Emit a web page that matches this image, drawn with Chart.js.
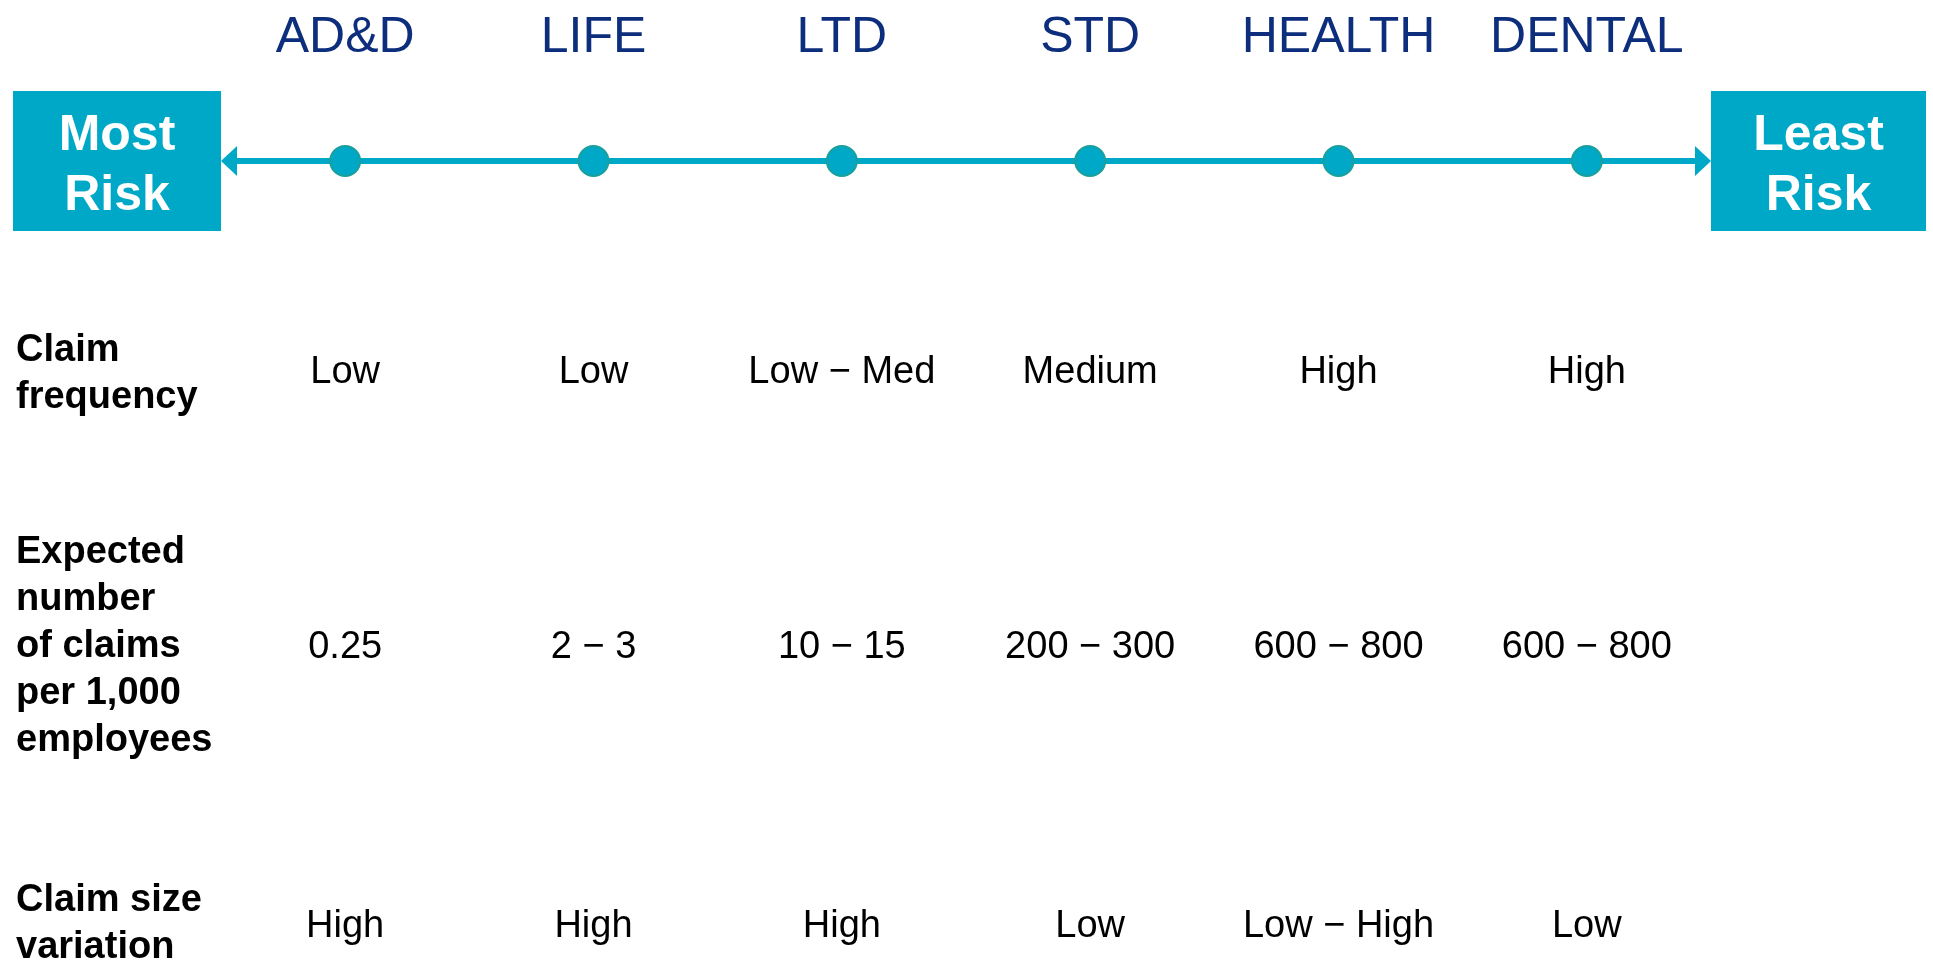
<!DOCTYPE html>
<html>
<head>
<meta charset="utf-8">
<title>Risk profile by coverage</title>
<script src="https://cdn.jsdelivr.net/npm/chart.js@4/dist/chart.umd.min.js"></script>
<style>
  html, body { margin: 0; padding: 0; background: #ffffff; overflow: hidden; }
  #wrap { position: relative; width: 1933px; height: 961px; }
</style>
</head>
<body>
<div id="wrap"><canvas id="chart"></canvas></div>
<script>
// Coverage lines, ordered from most to least risk
const products = ['AD&D', 'LIFE', 'LTD', 'STD', 'HEALTH', 'DENTAL'];
// Every coverage sits on the same risk axis
const riskAxis = [0, 0, 0, 0, 0, 0];

// Table rows under the axis
const claimFrequency = ['Low', 'Low', 'Low \u2212 Med', 'Medium', 'High', 'High'];
const claimsPer1000 = ['0.25', '2 \u2212 3', '10 \u2212 15', '200 \u2212 300', '600 \u2212 800', '600 \u2212 800'];
const claimSizeVariation = ['High', 'High', 'High', 'Low', 'Low \u2212 High', 'Low'];

const rowLabels = [
  ['Claim', 'frequency'],
  ['Expected', 'number', 'of claims', 'per 1,000', 'employees'],
  ['Claim size', 'variation']
];
const endLabels = [['Most', 'Risk'], ['Least', 'Risk']];

const TEAL = '#00A8C7';
const TEAL_EDGE = '#1B9F9B';
const NAVY = '#0C2E7C';
const FONT = '"Liberation Sans", Arial, Helvetica, sans-serif';

// Double-headed risk axis with the two end boxes
const riskAxisPlugin = {
  id: 'riskAxis',
  beforeDatasetsDraw(chart) {
    const { ctx, chartArea } = chart;
    const y = chart.scales.y.getPixelForValue(0);
    const L = chartArea.left, R = chartArea.right;
    const head = 16, half = 15;
    ctx.save();
    ctx.strokeStyle = TEAL;
    ctx.fillStyle = TEAL;
    ctx.lineWidth = 6;
    ctx.beginPath();
    ctx.moveTo(L + head - 1, y);
    ctx.lineTo(R - head + 1, y);
    ctx.stroke();
    ctx.beginPath();
    ctx.moveTo(L, y); ctx.lineTo(L + head, y - half); ctx.lineTo(L + head, y + half); ctx.closePath();
    ctx.fill();
    ctx.beginPath();
    ctx.moveTo(R, y); ctx.lineTo(R - head, y - half); ctx.lineTo(R - head, y + half); ctx.closePath();
    ctx.fill();

    // end boxes
    const boxH = 140;
    const boxes = [
      { x0: 13, x1: L, lines: endLabels[0] },
      { x0: R, x1: 1926, lines: endLabels[1] }
    ];
    boxes.forEach(b => {
      ctx.fillStyle = TEAL;
      ctx.fillRect(b.x0, y - boxH / 2, b.x1 - b.x0, boxH);
      ctx.fillStyle = '#ffffff';
      ctx.font = 'bold 50px ' + FONT;
      ctx.textAlign = 'center';
      ctx.textBaseline = 'alphabetic';
      const cx = (b.x0 + b.x1) / 2;
      ctx.fillText(b.lines[0], cx, y - 11);
      ctx.fillText(b.lines[1], cx, y + 49);
    });
    ctx.restore();
  }
};

// Attribute table below the axis, columns aligned to the category scale
const tablePlugin = {
  id: 'riskTable',
  afterDraw(chart) {
    const { ctx } = chart;
    const x = chart.scales.x;
    const rows = [
      { label: rowLabels[0], labelBase: 361, valueBase: 383, values: claimFrequency },
      { label: rowLabels[1], labelBase: 563, valueBase: 658, values: claimsPer1000 },
      { label: rowLabels[2], labelBase: 911, valueBase: 937, values: claimSizeVariation }
    ];
    const lineGap = 47;
    ctx.save();
    ctx.fillStyle = '#000000';
    ctx.textBaseline = 'alphabetic';
    rows.forEach(r => {
      ctx.font = 'bold 38px ' + FONT;
      ctx.textAlign = 'left';
      r.label.forEach((t, i) => ctx.fillText(t, 16, r.labelBase + i * lineGap));
      ctx.font = '38px ' + FONT;
      ctx.textAlign = 'center';
      r.values.forEach((v, i) => ctx.fillText(v, x.getPixelForValue(i), r.valueBase));
    });
    ctx.restore();
  }
};

new Chart(document.getElementById('chart'), {
  type: 'line',
  data: {
    labels: products,
    datasets: [{
      data: riskAxis,
      borderColor: TEAL,
      borderWidth: 6,
      pointRadius: 15,
      pointBorderWidth: 2,
      pointBackgroundColor: TEAL,
      pointBorderColor: TEAL_EDGE,
      pointHoverRadius: 15,
      clip: false
    }]
  },
  options: {
    responsive: true,
    maintainAspectRatio: false,
    animation: false,
    events: [],
    layout: { padding: { left: 221, right: 222, top: 0, bottom: 715 } },
    plugins: { legend: { display: false }, tooltip: { enabled: false } },
    scales: {
      x: {
        type: 'category',
        position: 'top',
        offset: true,
        grid: { display: false, drawTicks: false },
        border: { display: false },
        ticks: {
          padding: 8,
          color: NAVY,
          font: { family: FONT, size: 50 },
          maxRotation: 0,
          autoSkip: false
        }
      },
      y: {
        display: false,
        min: -1,
        max: 1
      }
    }
  },
  plugins: [riskAxisPlugin, tablePlugin]
});
</script>
</body>
</html>
